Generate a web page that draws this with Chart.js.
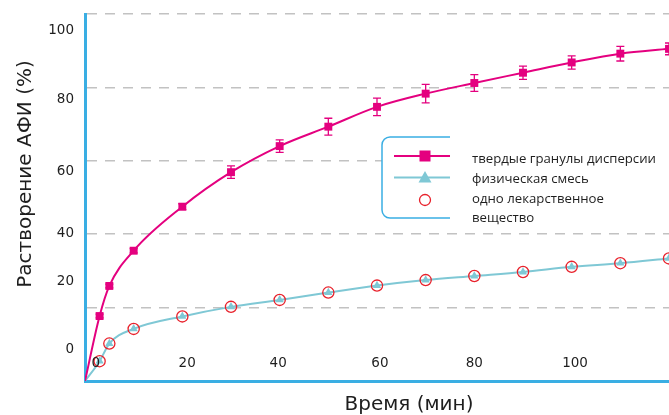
<!DOCTYPE html>
<html lang="ru">
<head>
<meta charset="utf-8">
<title>Растворение АФИ</title>
<script src="https://cdn.jsdelivr.net/npm/chart.js@4.4.1/dist/chart.umd.min.js"></script>
<style>
  html, body { margin: 0; padding: 0; background: #fff; }
  #wrap { width: 669px; height: 415px; }
</style>
</head>
<body>
<div id="wrap"><canvas id="chart" width="669" height="415"></canvas></div>
<script>
// === Data ===
const timeMin = [0, 3, 5, 10, 20, 30, 40, 50, 60, 70, 80, 90, 100, 110, 120];
const granules = [0, 17.7, 25.9, 35.5, 47.5, 56.9, 64.0, 69.3, 74.7, 78.3, 81.2, 84.0, 86.8, 89.2, 90.5];
const granulesErr = [0, 0.5, 0.5, 0.6, 0.8, 1.7, 1.7, 2.3, 2.4, 2.5, 2.3, 1.8, 1.8, 2.0, 1.6];
const physMix = [0, 5.4, 10.2, 14.2, 17.6, 20.2, 22.1, 24.1, 26.0, 27.5, 28.6, 29.7, 31.1, 32.1, 33.4];
const pureDrug = [null, 5.4, 10.2, 14.2, 17.6, 20.2, 22.1, 24.1, 26.0, 27.5, 28.6, 29.7, 31.1, 32.1, 33.4];

const seriesNames = ["твердые гранулы дисперсии", "физическая смесь", "одно лекарственное вещество"];
const legendLines = [["твердые гранулы дисперсии"], ["физическая смесь"], ["одно лекарственное", "вещество"]];

// tick labels sit a little off their gridlines in the original
const xTickLabels = ["0", "20", "40", "60", "80", "100"];
const xTickAt = [2.2, 21.0, 39.7, 60.6, 80.0, 100.7];
const yTickLabels = ["100", "80", "60", "40", "20", "0"];
const yTickAt = [95.6, 76.7, 57.0, 40.3, 27.0, 8.6];

const xTitle = "Время (мин)";
const yTitle = "Растворение АФИ (%)";

// === Colours ===
const magenta = "#e4007f";
const cyan = "#7fc8d5";
const red = "#e8212b";
const axisBlue = "#3aaee3";
const gridGray = "#c2c2c2";
const textColor = "#1e1e1e";

const toPoints = (ys) => ys.map((v, i) => ({ x: timeMin[i], y: v }));
const hideOrigin = (r) => (ctx) => (ctx.dataIndex === 0 ? 0 : r);

// === Extra drawing: error bars, offset tick labels, titles, legend ===
const extras = {
  id: "extras",
  beforeDatasetsDraw(chart) {
    const { ctx, scales: { x, y } } = chart;
    ctx.save();
    ctx.strokeStyle = magenta;
    ctx.lineWidth = 1.3;
    timeMin.forEach((t, i) => {
      const e = granulesErr[i];
      if (!e) return;
      const px = x.getPixelForValue(t);
      const top = y.getPixelForValue(granules[i] + e);
      const bot = y.getPixelForValue(granules[i] - e);
      ctx.beginPath();
      ctx.moveTo(px, top); ctx.lineTo(px, bot);
      ctx.moveTo(px - 4, top); ctx.lineTo(px + 4, top);
      ctx.moveTo(px - 4, bot); ctx.lineTo(px + 4, bot);
      ctx.stroke();
    });
    ctx.restore();
  },
  afterDraw(chart) {
    const { ctx, chartArea, scales: { x, y } } = chart;
    ctx.save();
    ctx.fillStyle = textColor;

    // tick labels
    ctx.font = '13.5px "DejaVu Sans"';
    ctx.textBaseline = "middle";
    ctx.textAlign = "right";
    yTickLabels.forEach((lab, i) => {
      ctx.fillText(lab, chartArea.left - 11, y.getPixelForValue(yTickAt[i]));
    });
    ctx.textAlign = "center";
    xTickLabels.forEach((lab, i) => {
      ctx.fillText(lab, x.getPixelForValue(xTickAt[i]), chartArea.bottom - 18);
    });

    // axis titles
    ctx.font = '20px "DejaVu Sans"';
    ctx.fillText(xTitle, 409, 405);
    ctx.save();
    ctx.translate(26, 174);
    ctx.rotate(-Math.PI / 2);
    ctx.fillText(yTitle, 0, 0);
    ctx.restore();

    drawLegend(ctx);
    ctx.restore();
  }
};

function drawLegend(ctx) {
  const left = 382, top = 137, bottom = 218, edge = 450, r = 8;
  const lineX0 = 394, lineX1 = 450, markX = 425, textX = 472;
  ctx.save();
  ctx.fillStyle = "#fff";
  ctx.fillRect(left, top, 669 - left, bottom - top);
  ctx.strokeStyle = axisBlue;
  ctx.lineWidth = 1.5;
  ctx.beginPath();
  ctx.moveTo(edge, top);
  ctx.arcTo(left, top, left, bottom, r);
  ctx.arcTo(left, bottom, edge, bottom, r);
  ctx.lineTo(edge, bottom);
  ctx.stroke();

  // row 1: squares
  let ry = 156;
  ctx.strokeStyle = magenta; ctx.lineWidth = 2;
  ctx.beginPath(); ctx.moveTo(lineX0, ry); ctx.lineTo(lineX1, ry); ctx.stroke();
  ctx.fillStyle = magenta;
  ctx.fillRect(markX - 5.5, ry - 5.5, 11, 11);

  // row 2: triangles
  ry = 177.5;
  ctx.strokeStyle = cyan; ctx.lineWidth = 2;
  ctx.beginPath(); ctx.moveTo(lineX0, ry); ctx.lineTo(lineX1, ry); ctx.stroke();
  ctx.fillStyle = cyan;
  ctx.beginPath();
  ctx.moveTo(markX, ry - 6.5); ctx.lineTo(markX + 6.5, ry + 5); ctx.lineTo(markX - 6.5, ry + 5);
  ctx.closePath(); ctx.fill();

  // row 3: open circles
  ry = 200;
  ctx.strokeStyle = red; ctx.lineWidth = 1.3;
  ctx.beginPath(); ctx.arc(markX, ry, 5.5, 0, Math.PI * 2); ctx.stroke();

  // text
  ctx.fillStyle = textColor;
  ctx.font = '13.2px "Open Sans"';
  ctx.textAlign = "left";
  ctx.textBaseline = "middle";
  const rows = [159, 179, 199];
  legendLines.forEach((lines, i) => {
    lines.forEach((s, j) => ctx.fillText(s, textX, rows[i] + j * 19.5));
  });
  ctx.restore();
}

// === Chart ===
const chart = new Chart(document.getElementById("chart"), {
  type: "line",
  data: {
    datasets: [
      {
        label: seriesNames[2],
        data: toPoints(pureDrug),
        showLine: false,
        pointStyle: "circle",
        pointRadius: 5.6,
        pointBorderWidth: 1.3,
        pointBorderColor: red,
        pointBackgroundColor: "rgba(0,0,0,0)",
        order: 0
      },
      {
        label: seriesNames[0],
        data: toPoints(granules),
        borderColor: magenta,
        borderWidth: 2,
        cubicInterpolationMode: "monotone",
        pointStyle: "rect",
        pointRadius: hideOrigin(5.6),
        pointBorderWidth: 0,
        pointBackgroundColor: magenta,
        order: 1
      },
      {
        label: seriesNames[1],
        data: toPoints(physMix),
        borderColor: cyan,
        borderWidth: 2,
        cubicInterpolationMode: "monotone",
        pointStyle: "triangle",
        pointRadius: hideOrigin(4.8),
        pointBorderWidth: 0,
        pointBackgroundColor: cyan,
        order: 2
      }
    ]
  },
  options: {
    responsive: false,
    devicePixelRatio: 1,
    animation: false,
    events: [],
    layout: { autoPadding: false, padding: { left: 85, right: 0, top: 14, bottom: 34 } },
    plugins: {
      legend: { display: false },
      tooltip: { enabled: false }
    },
    scales: {
      x: {
        type: "linear",
        min: 0,
        max: 120,
        ticks: { display: false },
        grid: { display: false, drawTicks: false },
        border: { color: axisBlue, width: 3 }
      },
      y: {
        min: 0,
        max: 100,
        ticks: { display: false, stepSize: 20 },
        grid: {
          drawTicks: false,
          lineWidth: 1.5,
          color: (c) => (c.tick && c.tick.value === 0 ? "rgba(0,0,0,0)" : gridGray)
        },
        border: { color: axisBlue, width: 3, dash: [10, 8] }
      }
    }
  },
  plugins: [extras]
});
</script>
</body>
</html>
